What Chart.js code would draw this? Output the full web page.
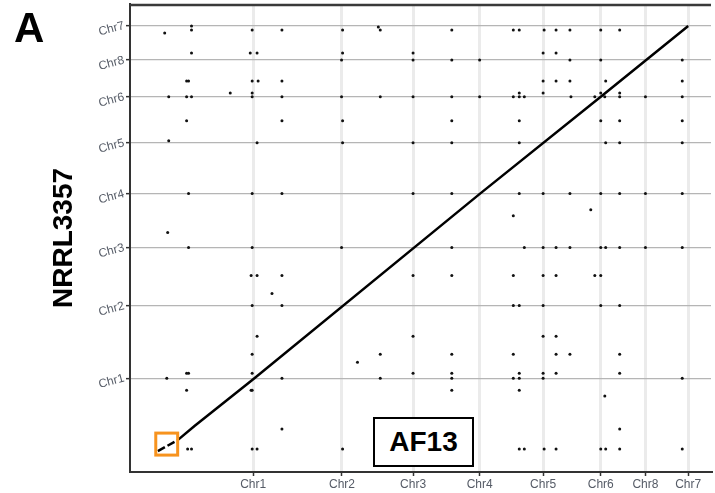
<!DOCTYPE html>
<html>
<head>
<meta charset="utf-8">
<title>Dotplot AF13 vs NRRL3357</title>
<script src="https://cdn.jsdelivr.net/npm/chart.js@4.4.0/dist/chart.umd.min.js"></script>
<style>
  html, body { margin: 0; padding: 0; background: #fff; }
  #wrap { position: relative; width: 715px; height: 493px; }
  #panel {
    position: absolute; left: 14px; top: 7px;
    font: bold 42px "Liberation Sans", Arial, sans-serif; line-height: 42px; color: #000;
  }
  #queryLabel {
    position: absolute; left: 373px; top: 417px; width: 101px; height: 50px;
    box-sizing: border-box; border: 2px solid #000; background: #fff;
    display: flex; align-items: center; justify-content: center;
    font: bold 28px "Liberation Sans", Arial, sans-serif; color: #000;
  }
</style>
</head>
<body>
<div id="wrap">
  <canvas id="dotplot" width="715" height="493"></canvas>
  <div id="panel">A</div>
  <div id="queryLabel">AF13</div>
</div>
<script>
// --- DATA (positions in Mb along the concatenated assemblies) ---
const xTickLabels = ['Chr1', 'Chr2', 'Chr3', 'Chr4', 'Chr5', 'Chr6', 'Chr8', 'Chr7'];
const xTickValues = [8.27, 14.23, 19.0, 23.47, 27.73, 31.6, 34.6, 37.47];
const yTickLabels = ['Chr1', 'Chr2', 'Chr3', 'Chr4', 'Chr5', 'Chr6', 'Chr8', 'Chr7'];
const yTickValues = [6.27, 11.1, 15.0, 18.6, 22.0, 25.07, 27.53, 29.83];

// main synteny diagonal (alignment blocks)
const diagX = [3.2, 4.33, 8.27, 23.5, 31.6, 37.47];
const diagY = [2.13, 3.07, 6.2, 18.6, 25.07, 29.8];
// broken start of the diagonal inside the highlighted box
const dashX = [1.87, 3.2];
const dashY = [1.4, 2.13];

// scattered short matches, grouped by row (NRRL3357 position)
const dotRowY = [29.8, 29.73, 29.53, 29.33, 28.0, 27.53, 26.13, 25.33, 25.07, 23.47,
                 22.13, 22.0, 18.6, 17.53, 17.13, 16.0, 15.0, 13.13, 11.93, 11.13,
                 9.07, 7.87, 7.33, 6.6, 6.27, 5.47, 5.07, 2.87, 1.53];
const dotRowX = [
  [4.13],
  [16.67],
  [4.13, 8.2, 10.2, 14.27, 16.8, 21.6, 25.73, 26.13, 27.8, 28.6, 29.53, 31.6, 32.87],
  [2.33],
  [4.13, 8.07, 8.53, 14.27, 19.0, 27.73, 28.6],
  [14.2, 19.0, 21.6, 23.47, 29.53, 31.6, 37.07],
  [3.8, 3.93, 8.2, 8.6, 10.2, 27.73, 28.6, 29.53, 31.93, 37.07],
  [6.73, 8.2, 26.13, 27.73, 31.6, 32.87],
  [2.6, 3.8, 4.13, 8.2, 10.2, 14.2, 16.8, 19.0, 21.6, 23.47, 25.73, 26.13, 26.47, 29.6, 31.2, 31.87, 32.87, 34.6, 37.07],
  [3.8, 10.2, 14.27, 21.6, 26.13, 31.6, 32.87, 37.07],
  [2.6],
  [8.53, 14.27, 19.0, 21.6, 26.13, 31.93, 32.87, 37.07],
  [3.93, 8.2, 10.2, 19.0, 21.6, 26.13, 27.73, 29.53, 31.6, 32.87, 34.6, 37.07],
  [30.93],
  [25.73],
  [2.53],
  [3.93, 8.2, 14.2, 21.6, 26.47, 27.73, 28.6, 29.53, 31.6, 31.93, 32.87, 34.6, 37.07],
  [8.13, 8.53, 10.2, 19.0, 21.6, 25.73, 27.73, 28.6, 31.2, 31.6],
  [9.53],
  [8.2, 10.2, 25.73, 26.13, 27.73, 31.6, 32.87],
  [8.53, 19.0, 27.73, 28.6],
  [8.2, 16.8, 21.6, 25.73, 28.6, 29.53, 32.87],
  [15.27],
  [3.8, 3.93, 8.2, 19.0, 21.6, 26.13, 27.73, 28.6, 32.87],
  [2.47, 10.2, 16.8, 21.6, 25.73, 26.13, 27.73, 37.07],
  [3.8, 8.13, 8.2, 21.6, 26.13],
  [31.87],
  [10.2, 32.87],
  [3.87, 4.13, 8.2, 8.53, 14.27, 26.13, 26.47, 27.8, 28.6, 31.6, 31.93, 32.87, 37.07]
];

// highlighted region: [xMin, yMin, xMax, yMax]
const zoomBox = [1.73, 1.13, 3.2, 2.6];

const X_MAX = 39;
const Y_MAX = 31.27;

// --- BUILD DATASETS ---
const dots = [];
dotRowY.forEach((yv, i) => dotRowX[i].forEach(xv => dots.push({ x: xv, y: yv })));
const diagonal = diagX.map((xv, i) => ({ x: xv, y: diagY[i] }));
const dashed = dashX.map((xv, i) => ({ x: xv, y: dashY[i] }));

const tickFont = { family: '"Liberation Sans", Arial, sans-serif', size: 12 };

// top frame line and the orange highlight box
const frameAndBox = {
  id: 'frameAndBox',
  afterDatasetsDraw(chart) {
    const { ctx, chartArea, scales: { x, y } } = chart;
    ctx.save();
    ctx.strokeStyle = '#3a3a3a';
    ctx.lineWidth = 2.5;
    ctx.beginPath();
    ctx.moveTo(chartArea.left, chartArea.top + 1);
    ctx.lineTo(chartArea.right, chartArea.top + 1);
    ctx.stroke();

    const left = x.getPixelForValue(zoomBox[0]);
    const right = x.getPixelForValue(zoomBox[2]);
    const top = y.getPixelForValue(zoomBox[3]);
    const bottom = y.getPixelForValue(zoomBox[1]);
    ctx.strokeStyle = '#f7931e';
    ctx.lineWidth = 3;
    ctx.strokeRect(left, top, right - left, bottom - top);
    ctx.restore();
  }
};

new Chart(document.getElementById('dotplot'), {
  type: 'scatter',
  data: {
    datasets: [
      {
        label: 'matches',
        data: dots,
        pointRadius: 1.5,
        pointBackgroundColor: '#111',
        pointBorderWidth: 0
      },
      {
        label: 'diagonal',
        data: diagonal,
        showLine: true,
        borderColor: '#000',
        borderWidth: 2.5,
        pointRadius: 0
      },
      {
        label: 'diagonal start',
        data: dashed,
        showLine: true,
        borderColor: '#000',
        borderWidth: 2.5,
        borderDash: [8, 3],
        pointRadius: 0
      }
    ]
  },
  options: {
    responsive: false,
    animation: false,
    layout: { padding: { top: 3, left: 0, right: 0, bottom: 0 } },
    plugins: {
      legend: { display: false },
      tooltip: { enabled: false }
    },
    scales: {
      x: {
        type: 'linear',
        min: 0,
        max: X_MAX,
        afterBuildTicks: scale => { scale.ticks = xTickValues.map(v => ({ value: v })); },
        afterFit: scale => {
          scale.height = 21;
          scale.paddingLeft = 0;
          scale.paddingRight = 0;
        },
        ticks: {
          font: tickFont,
          color: '#555b66',
          padding: 1,
          maxRotation: 0,
          callback: (value, index) => xTickLabels[index]
        },
        grid: {
          color: '#ebebeb',
          lineWidth: 3,
          tickColor: '#333',
          tickWidth: 1.5,
          tickLength: 4
        },
        border: { color: '#333', width: 2 }
      },
      y: {
        type: 'linear',
        min: 0,
        max: Y_MAX,
        afterBuildTicks: scale => { scale.ticks = yTickValues.map(v => ({ value: v })); },
        afterFit: scale => {
          scale.width = 130;
          scale.paddingTop = 0;
          scale.paddingBottom = 0;
        },
        ticks: {
          font: tickFont,
          color: '#555b66',
          padding: 2,
          minRotation: 15,
          maxRotation: 15,
          callback: (value, index) => yTickLabels[index]
        },
        grid: {
          color: '#b5b5b5',
          lineWidth: 1.3,
          tickColor: '#333',
          tickWidth: 1.5,
          tickLength: 4
        },
        border: { color: '#333', width: 2 },
        title: {
          display: true,
          text: 'NRRL3357',
          color: '#000',
          font: { family: '"Liberation Sans", Arial, sans-serif', size: 28, weight: 'bold' },
          padding: { top: 47, bottom: 0 }
        }
      }
    }
  },
  plugins: [frameAndBox]
});
</script>
</body>
</html>
